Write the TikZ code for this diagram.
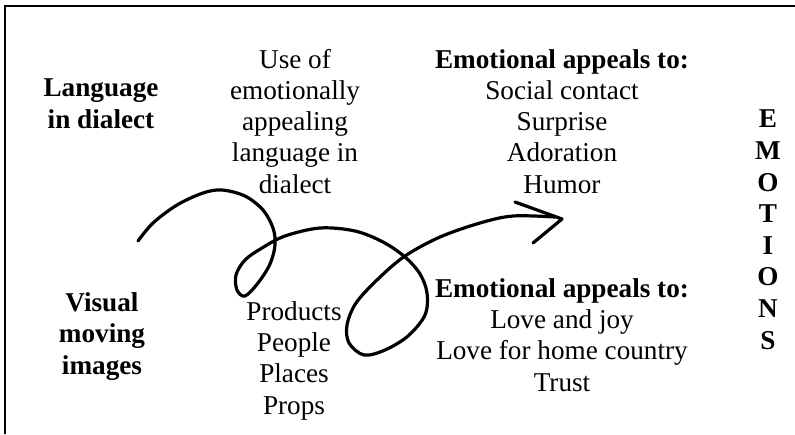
\documentclass[tikz,border=0pt]{standalone}
\usepackage{fontspec}
\setmainfont{Liberation Serif}
\usetikzlibrary{positioning}
\tikzset{
  headtext/.style={font=\fontsize{13.6}{15.6}\selectfont\bfseries, align=center, inner sep=0pt, anchor=base},
  plaintext/.style={font=\fontsize{13.6}{15.6}\selectfont, align=center, inner sep=0pt, anchor=base},
  swirl/.style={line width=1.6pt, line cap=round, line join=round},
  frameline/.style={line width=1pt}
}

\begin{document}
\begin{tikzpicture}[x=0.5pt, y=-0.5pt]
  \useasboundingbox (0,0) rectangle (795,434);
  \draw[frameline] (5,434) -- (5,6) -- (795,6);

  % blocks sit on the baseline of their last line
  \node[headtext] (dialect) at (101,128) {Language\\in dialect};
  \node[headtext] (visual) at (102,374) {Visual\\moving\\images};
  \node[plaintext] (usage) at (295,193) {Use of\\emotionally\\appealing\\language in\\dialect};
  \node[plaintext] (things) at (294,414) {Products\\People\\Places\\Props};
  \node[plaintext] (appealtop) at (562,193) {\textbf{Emotional appeals to:}\\Social contact\\Surprise\\Adoration\\Humor};
  \node[plaintext] (appealbot) at (562,391) {\textbf{Emotional appeals to:}\\Love and joy\\Love for home country\\Trust};
  \node[headtext, font=\fontsize{13.6}{15.8}\selectfont\bfseries] (emotions) at (768,349) {E\\M\\O\\T\\I\\O\\N\\S};

  % hand-drawn loop arrow
  \coordinate (swirlstart) at (138,241);
  \coordinate (tip) at (562,219);
  \draw[swirl] plot[smooth, tension=0.55] coordinates {
    (swirlstart) (153,223) (177,205) (203,193) (222,190) (245,196) (263,210)
    (273,228) (275,245) (270,264) (258,283) (245,296) (237,290) (236,275)
    (245,260) (262,248) (285,236) (320,228) (355,231) (383,242) (405,257)
    (420,274) (427,293) (425,315) (408,336) (385,350) (364,355) (349,343)
    (347,325) (356,303) (378,279) (405,256) (440,237) (480,223) (513,216)
    (555,217)};
  \draw[swirl] (515,202) -- (tip) -- (533,243);
\end{tikzpicture}
\end{document}
